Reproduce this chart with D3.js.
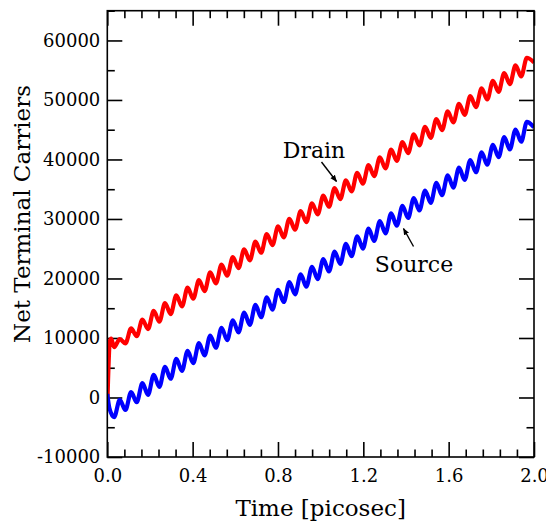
<!DOCTYPE html>
<html>
<head>
<meta charset="utf-8">
<script src="https://cdn.jsdelivr.net/npm/d3@7"></script>
<style>
  body { margin: 0; background: #fff; }
  text { font-family: "DejaVu Serif", serif; fill: #000; }
</style>
</head>
<body>
<svg id="chart" width="546" height="526"></svg>
<script>
// tick values
const xMajor = [0, 0.4, 0.8, 1.2, 1.6, 2.0];
const yMajor = [-10000, 0, 10000, 20000, 30000, 40000, 50000, 60000];

// times of the oscillation extrema (picosec), last point is the end of the run
const extremaTimes = [0.032, 0.0585, 0.085, 0.1115, 0.138, 0.1645, 0.191, 0.2175, 0.244, 0.2705,
  0.297, 0.3235, 0.35, 0.3765, 0.403, 0.4295, 0.456, 0.4825, 0.509, 0.5355,
  0.562, 0.5885, 0.615, 0.6415, 0.668, 0.6945, 0.721, 0.7475, 0.774, 0.8005,
  0.827, 0.8535, 0.88, 0.9065, 0.933, 0.9595, 0.986, 1.0125, 1.039, 1.0655,
  1.092, 1.1185, 1.145, 1.1715, 1.198, 1.2245, 1.251, 1.2775, 1.304, 1.3305,
  1.357, 1.3835, 1.41, 1.4365, 1.463, 1.4895, 1.516, 1.5425, 1.569, 1.5955,
  1.622, 1.6485, 1.675, 1.7015, 1.728, 1.7545, 1.781, 1.8075, 1.834, 1.8605,
  1.887, 1.9135, 1.94, 1.9665, 2.0];

// drain terminal carriers
const drainStart = [[0, -1500], [0.012, 9500], [0.018, 9900]];
const drainValues = [8450, 9800, 9100, 11600, 10300, 13100, 11500, 14550, 12730, 15880,
  14020, 17160, 15310, 18450, 16600, 19740, 17880, 21030, 19170, 22320,
  20460, 23600, 21750, 24890, 23040, 26180, 24320, 27470, 25610, 28760,
  26900, 30040, 28190, 31330, 29480, 32620, 30760, 33910, 32050, 35200,
  33340, 36480, 34630, 37770, 35920, 39060, 37200, 40350, 38490, 41640,
  39780, 42920, 41070, 44210, 42360, 45500, 43640, 46790, 44930, 48080,
  46220, 49360, 47510, 50650, 48800, 51940, 50080, 53230, 51370, 54520,
  52660, 55800, 53950, 57090, 56300];

// source terminal carriers
const sourceStart = [[0, 600], [0.01, -1800]];
const sourceValues = [-3300, -400, -2100, 900, -800, 2400, 450, 3800, 1800, 5150,
  3150, 6500, 4480, 7820, 5780, 9120, 7070, 10420, 8360, 11700,
  9640, 12980, 10930, 14270, 12210, 15550, 13490, 16830, 14770, 18110,
  16050, 19390, 17340, 20680, 18620, 21960, 19900, 23240, 21180, 24520,
  22460, 25800, 23750, 27090, 25030, 28370, 26310, 29650, 27590, 30930,
  28870, 32210, 30160, 33500, 31440, 34780, 32720, 36060, 34000, 37340,
  35280, 38620, 36570, 39910, 37850, 41190, 39130, 42470, 40410, 43750,
  41690, 45030, 42980, 46320, 45400];

const svg = d3.select('#chart');
const plotLeft = 107.3, plotRight = 534, plotTop = 10.7, plotBottom = 457;

const x = d3.scaleLinear().domain([0, 2]).range([plotLeft, plotRight]);
const y = d3.scaleLinear().domain([-10000, 65000]).range([plotBottom, plotTop]);

const xMinor = d3.range(0, 2.0001, 0.08).filter(function (d) { return Math.abs(d / 0.4 - Math.round(d / 0.4)) > 1e-6; });
const yMinor = d3.range(-10000, 65001, 5000).filter(function (d) { return d % 10000 !== 0; });

const majorLen = 15, minorLen = 7.5;

function styleAxis(g) {
  g.select('.domain').remove();
  g.selectAll('.tick line').attr('stroke', '#000').attr('stroke-width', 1.6);
  g.selectAll('.tick text').style('font-family', '"DejaVu Serif", serif').style('font-size', '18px').attr('fill', '#000');
}

// bottom
svg.append('g').attr('transform', 'translate(0,' + plotBottom + ')')
  .call(d3.axisBottom(x).tickValues(xMajor).tickSize(-majorLen).tickPadding(12).tickFormat(d3.format('.1f')))
  .call(styleAxis);
svg.append('g').attr('transform', 'translate(0,' + plotBottom + ')')
  .call(d3.axisBottom(x).tickValues(xMinor).tickSize(-minorLen).tickFormat(''))
  .call(styleAxis);
// top
svg.append('g').attr('transform', 'translate(0,' + plotTop + ')')
  .call(d3.axisTop(x).tickValues(xMajor).tickSize(-majorLen).tickFormat(''))
  .call(styleAxis);
svg.append('g').attr('transform', 'translate(0,' + plotTop + ')')
  .call(d3.axisTop(x).tickValues(xMinor).tickSize(-minorLen).tickFormat(''))
  .call(styleAxis);
// left
svg.append('g').attr('transform', 'translate(' + plotLeft + ',0)')
  .call(d3.axisLeft(y).tickValues(yMajor).tickSize(-majorLen).tickPadding(7).tickFormat(function (d) { return String(d); }))
  .call(styleAxis);
svg.append('g').attr('transform', 'translate(' + plotLeft + ',0)')
  .call(d3.axisLeft(y).tickValues(yMinor).tickSize(-minorLen).tickFormat(''))
  .call(styleAxis);
// right
svg.append('g').attr('transform', 'translate(' + plotRight + ',0)')
  .call(d3.axisRight(y).tickValues(yMajor).tickSize(-majorLen).tickFormat(''))
  .call(styleAxis);
svg.append('g').attr('transform', 'translate(' + plotRight + ',0)')
  .call(d3.axisRight(y).tickValues(yMinor).tickSize(-minorLen).tickFormat(''))
  .call(styleAxis);

svg.append('clipPath').attr('id', 'plot-clip')
  .append('rect').attr('x', plotLeft).attr('y', plotTop).attr('width', plotRight - plotLeft).attr('height', plotBottom - plotTop);

const line = d3.line()
  .x(function (d) { return x(d[0]); })
  .y(function (d) { return y(d[1]); })
  .curve(d3.curveMonotoneX);

const drain = drainStart.concat(extremaTimes.map(function (t, i) { return [t, drainValues[i]]; }));
const source = sourceStart.concat(extremaTimes.map(function (t, i) { return [t, sourceValues[i]]; }));

const plot = svg.append('g').attr('clip-path', 'url(#plot-clip)');
plot.append('path').datum(drain).attr('d', line)
  .attr('fill', 'none').attr('stroke', '#ff0000').attr('stroke-width', 4.2).attr('stroke-linejoin', 'round');
plot.append('path').datum(source).attr('d', line)
  .attr('fill', 'none').attr('stroke', '#0000ff').attr('stroke-width', 4.2).attr('stroke-linejoin', 'round');

// frame
svg.append('rect').attr('x', plotLeft).attr('y', plotTop).attr('width', plotRight - plotLeft).attr('height', plotBottom - plotTop)
  .attr('fill', 'none').attr('stroke', '#000').attr('stroke-width', 1.6);

// axis titles
svg.append('text').attr('x', (plotLeft + plotRight) / 2).attr('y', 516)
  .attr('text-anchor', 'middle').style('font-size', '23px').text('Time [picosec]');
svg.append('text').attr('transform', 'translate(30,214) rotate(-90)')
  .attr('text-anchor', 'middle').style('font-size', '23px').text('Net Terminal Carriers');

// annotations
svg.append('defs').append('marker').attr('id', 'arrow')
  .attr('viewBox', '0 0 10 10').attr('refX', 9).attr('refY', 5)
  .attr('markerWidth', 7).attr('markerHeight', 7).attr('markerUnits', 'userSpaceOnUse')
  .attr('orient', 'auto')
  .append('path').attr('d', 'M0,1 L10,5 L0,9 Z').attr('fill', '#000');

svg.append('text').attr('x', 314).attr('y', 158).attr('text-anchor', 'middle').style('font-size', '22px').text('Drain');
svg.append('line').attr('x1', 321.5).attr('y1', 162).attr('x2', 336.5).attr('y2', 181.5)
  .attr('stroke', '#000').attr('stroke-width', 1.4).attr('marker-end', 'url(#arrow)');

svg.append('text').attr('x', 414).attr('y', 271.5).attr('text-anchor', 'middle').style('font-size', '22px').text('Source');
svg.append('line').attr('x1', 413.5).attr('y1', 246.5).attr('x2', 403.5).attr('y2', 228.5)
  .attr('stroke', '#000').attr('stroke-width', 1.4).attr('marker-end', 'url(#arrow)');
</script>
</body>
</html>
